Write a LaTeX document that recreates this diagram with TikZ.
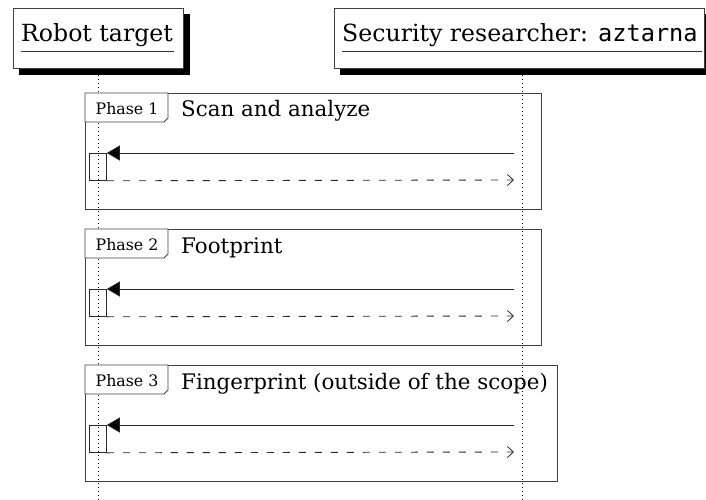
\documentclass[tikz,border=0pt]{standalone}
\usepackage{fontspec}
\setmainfont{DejaVu Serif}
\setmonofont{DejaVu Sans Mono}
\usetikzlibrary{arrows.meta,shadows}
\begin{document}
\begin{tikzpicture}[x=1pt,y=-1pt,
  actor/.style={draw=black!75,fill=white,line width=0.8pt,rectangle,inner sep=0pt,
    copy shadow={shadow xshift=6pt,shadow yshift=-6pt,fill=black,draw=black}},
  actortext/.style={font=\fontsize{23.6}{26}\selectfont,inner sep=0pt,anchor=base west},
  lifeline/.style={line width=0.8pt,dash pattern=on 0.8pt off 3.2pt},
  frm/.style={draw=black!75,line width=0.9pt},
  tab/.style={draw=black!75,line width=0.8pt,fill=white},
  tabtext/.style={font=\fontsize{15.8}{18}\selectfont,inner sep=0pt,anchor=base},
  ftitle/.style={font=\fontsize{21.4}{24}\selectfont,inner sep=0pt,anchor=base west},
  act/.style={draw=black!85,line width=0.8pt,inner sep=0pt,minimum width=17pt,minimum height=27pt},
  call/.style={draw=black!85,line width=0.8pt,-{Triangle[length=13pt,width=15pt,fill=black]}},
  ret/.style={draw=black!85,line width=0.9pt,dash pattern=on 7pt off 9pt,-{Straight Barb[length=6pt,width=11pt,line width=0.8pt]}}
]
\useasboundingbox (0,0) rectangle (706,500);
% participants
\node[actor,minimum width=170pt,minimum height=60pt,anchor=north west] (robot) at (13,8) {};
\node[actor,minimum width=370pt,minimum height=60pt,anchor=north west] (res) at (334,8) {};
\node[actortext] (robott) at (21,42) {Robot target};
\node[actortext] (rest) at (342,42) {Security researcher: \texttt{aztarna}};
\draw[line width=0.8pt,black!80] (21,51) -- (174,51);
\draw[line width=0.8pt,black!80] (342,51) -- (702,51);
% lifelines
\coordinate (rtop) at (98,75);
\coordinate (rbot) at (98,500);
\coordinate (stop) at (522,75);
\coordinate (sbot) at (522,500);
\draw[lifeline] (rtop) -- (rbot);
\draw[lifeline] (stop) -- (sbot);
% frames
\foreach \i/\y/\r/\t in {1/93/541/Scan and analyze,2/229/541/Footprint,3/365/557/Fingerprint (outside of the scope)}{
  \draw[frm] (85,\y) rectangle (\r,\y+116);
  \coordinate (fr\i) at (85,\y);
  \draw[tab] (85,\y) -- (168,\y) -- (168,\y+25) -- (164,\y+29) -- (85,\y+29) -- cycle;
  \node[tabtext] (tab\i) at (127,\y+21) {Phase \i};
  \node[ftitle] (title\i) at (181,\y+24) {\t};
  \node[act,anchor=north west] (act\i) at (89,\y+60) {};
  \coordinate (src\i) at (514,\y+60);
  \coordinate (dst\i) at (514,\y+87);
  \draw[call] (src\i) -- (act\i.north east);
  \draw[ret] (act\i.south east) -- (dst\i);
}
\end{tikzpicture}
\end{document}
